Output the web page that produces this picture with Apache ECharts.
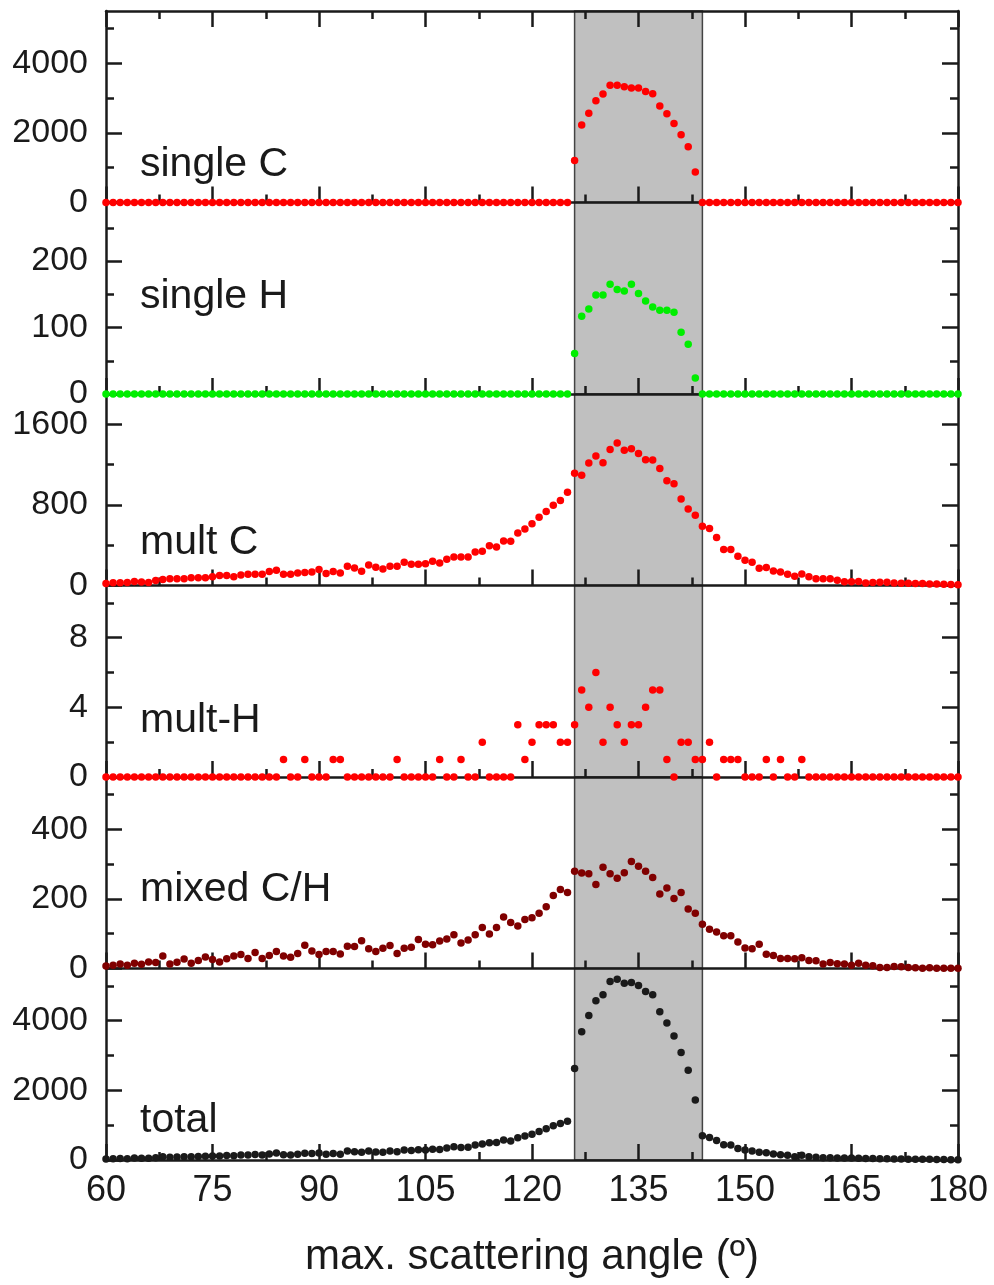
<!DOCTYPE html>
<html>
<head>
<meta charset="utf-8">
<script src="https://cdn.jsdelivr.net/npm/echarts@6.0.0/dist/echarts.min.js"></script>
<style>
html, body { margin: 0; padding: 0; background: #fff; }
#chart { width: 994px; height: 1285px; }
</style>
</head>
<body>
<div id="chart"></div>
<script>
// angles run 60..180 in 1 degree steps
var angleStart = 60;

var singleC = [
	0,0,0,0,0,0,0,0,0,0, 0,0,0,0,0,0,0,0,0,0, 0,0,0,0,0,0,0,0,0,0,
	0,0,0,0,0,0,0,0,0,0, 0,0,0,0,0,0,0,0,0,0, 0,0,0,0,0,0,0,0,0,0,
	0,0,0,0,0,0,1209,2229,2560,2923, 3114,3371,3371,3323,3286,3286,3189,3123,2771,2551,
	2266,1943,1600,874,0,0,0,0,0,0, 0,0,0,0,0,0,0,0,0,0, 0,0,0,0,0,0,0,0,0,0,
	0,0,0,0,0,0,0,0,0,0, 0
];
var singleH = [
	0,0,0,0,0,0,0,0,0,0, 0,0,0,0,0,0,0,0,0,0, 0,0,0,0,0,0,0,0,0,0,
	0,0,0,0,0,0,0,0,0,0, 0,0,0,0,0,0,0,0,0,0, 0,0,0,0,0,0,0,0,0,0,
	0,0,0,0,0,0,61,117,128,149, 149,165,157,155,165,151,140,131,126,126,
	123,93,75,24,0,0,0,0,0,0, 0,0,0,0,0,0,0,0,0,0, 0,0,0,0,0,0,0,0,0,0,
	0,0,0,0,0,0,0,0,0,0, 0
];
var multC = [
	20,27,27,30,40,35,30,49,59,66,
	66,66,76,76,76,86,99,99,86,105,
	112,112,112,138,151,112,112,125,128,135,
	158,118,138,125,191,174,141,204,181,164,
	191,191,230,210,210,217,240,224,260,283,
	283,283,333,339,395,382,441,438,520,560,
	612,678,734,797,843,925,1113,1093,1215,1284,
	1218,1350,1415,1343,1356,1310,1248,1245,1162,1040,
	1010,859,760,698,589,566,477,356,356,290,
	250,230,171,178,145,135,112,92,115,86,
	66,66,66,53,36,36,40,26,30,33,
	33,26,23,23,20,20,16,16,13,10,8
];
var multH = [
	0,0,0,0,0,0,0,0,0,0,
	0,0,0,0,0,0,0,0,0,0,
	0,0,0,0,0,1,0,0,1,0,
	0,0,1,1,0,0,0,0,0,0,
	0,1,0,0,0,0,0,1,0,0,
	1,0,0,2,0,0,0,0,3,1,
	2,3,3,3,2,2,3,5,4,6,
	2,4,3,2,3,3,4,5,5,1,
	0,2,2,1,1,2,0,1,1,1,
	0,0,0,1,0,1,0,0,1,0,
	0,0,0,0,0,0,0,0,0,0,
	0,0,0,0,0,0,0,0,0,0,0
];
var mixedCH = [
	7,9,13,9,15,12,19,17,36,13,
	18,27,15,23,33,26,19,28,36,40,
	29,46,29,37,49,36,32,43,67,50,
	40,49,49,42,64,63,80,57,49,58,
	66,43,58,61,83,70,68,79,85,97,
	73,82,97,118,99,118,148,132,122,141,
	146,159,177,210,227,218,279,274,272,241,
	291,272,259,275,307,294,279,261,214,231,
	201,218,171,159,127,113,105,94,94,76,
	59,57,70,41,37,29,29,28,31,23,
	22,13,17,14,13,9,15,9,8,3,
	3,6,5,3,2,1,2,1,1,1,1
];
var total = [
	27,36,40,39,55,47,49,66,95,79,
	84,93,91,99,109,112,118,127,122,145,
	141,158,141,175,200,149,144,168,196,185,
	198,167,188,168,255,237,221,261,230,222,
	257,235,288,271,293,287,308,304,345,380,
	357,365,430,459,494,500,571,543,638,686,
	743,819,895,981,1048,1114,2628,3686,4152,4571,
	4743,5124,5191,5076,5095,5010,4838,4743,4257,3933,
	3562,3086,2581,1724,695,648,562,438,429,333,
	286,257,219,210,171,152,133,95,133,95,
	76,67,66,60,57,55,48,45,40,38,
	35,30,28,25,22,20,18,15,12,10,8
];

var panelNames = ['single C', 'single H', 'mult C', 'mult-H', 'mixed C/H', 'total'];
var panelData = [singleC, singleH, multC, multH, mixedCH, total];
var panelColors = ['#ff0000', '#00ee00', '#ff0000', '#ff0000', '#800000', '#1a1a1a'];
var panelMax = [5500, 288, 1900, 11, 550, 5500];
var majorTicks = [[0, 2000, 4000], [0, 100, 200], [0, 800, 1600], [0, 4, 8], [0, 200, 400], [0, 2000, 4000]];
var minorTicks = [[1000, 3000, 5000], [50, 150, 250], [400, 1200], [2, 6, 10], [100, 300, 500], [1000, 3000, 5000]];
var shadeFrom = 126, shadeTo = 144;
var xTitle = 'max. scattering angle (º)';

// layout
var gridTop = 11, gridH = 191.5, gridLeft = 106, gridW = 852;
var labelY = [165, 297, 543, 721, 890, 1121];
var ink = '#1a1a1a';
var lineW = 2.5;

function xAxisDef(g, pos, withLabels, xl) {
	return {
		gridIndex: g, type: 'value', position: pos, min: 60, max: 180, interval: 15, z: 3,
		axisLine: {show: true, onZero: false, lineStyle: {color: ink, width: lineW}},
		axisTick: {show: true, inside: true, length: 16, lineStyle: {color: ink, width: lineW}},
		minorTick: {show: true, splitNumber: 2, length: 8, lineStyle: {color: ink, width: lineW}},
		splitLine: {show: false},
		axisLabel: {
			show: withLabels, margin: xl.margin, color: ink, fontFamily: xl.family, fontSize: xl.size,
			showMinLabel: true, showMaxLabel: true
		},
		name: withLabels ? xTitle : '',
		nameLocation: 'middle', nameGap: 76,
		nameTextStyle: {color: ink, fontFamily: 'Liberation Sans', fontSize: 42}
	};
}

function yAxisDef(g, pos, max, ticks, len, showLine, showLabels) {
	return {
		gridIndex: g, type: 'value', position: pos, min: 0, max: max, z: 3,
		axisLine: {show: showLine, onZero: false, lineStyle: {color: ink, width: lineW}},
		axisTick: {show: true, inside: true, length: len, customValues: ticks, lineStyle: {color: ink, width: lineW}},
		axisLabel: {
			show: showLabels, customValues: ticks, margin: 18, color: ink,
			fontFamily: 'Liberation Sans', fontSize: 34, showMinLabel: true,
			formatter: function(v) { return String(v); }
		},
		splitLine: {show: false}
	};
}

function buildOption(xl) {
	var grids = [], xAxes = [], yAxes = [], series = [], graphics = [];
	for (var i = 0; i < 6; i++) {
		var top = gridTop + i * gridH;
		var gA = grids.length;
		grids.push({left: gridLeft, top: top, width: gridW, height: gridH, outerBoundsMode: 'none'});

		// main grid: bottom x axis, long y ticks on both sides
		var xa = xAxes.length;
		xAxes.push(xAxisDef(gA, 'bottom', i === 5, xl));
		if (i === 0) xAxes.push(xAxisDef(gA, 'top', false, xl));
		var ya = yAxes.length;
		yAxes.push(yAxisDef(gA, 'left', panelMax[i], majorTicks[i], 16, true, true));
		yAxes.push(yAxisDef(gA, 'right', panelMax[i], majorTicks[i], 16, true, false));

		// twin grid, only carries the short minor y ticks
		var gB = grids.length;
		grids.push({left: gridLeft, top: top, width: gridW, height: gridH, outerBoundsMode: 'none'});
		xAxes.push({gridIndex: gB, type: 'value', min: 60, max: 180, show: false});
		yAxes.push(yAxisDef(gB, 'left', panelMax[i], minorTicks[i], 8, false, false));
		yAxes.push(yAxisDef(gB, 'right', panelMax[i], minorTicks[i], 8, false, false));

		// gray band
		series.push({
			type: 'scatter', xAxisIndex: xa, yAxisIndex: ya, data: [], z: 1, silent: true,
			markArea: {
				silent: true,
				itemStyle: {color: '#c0c0c0', borderColor: '#444', borderWidth: 1.5},
				data: [[{xAxis: shadeFrom}, {xAxis: shadeTo}]]
			}
		});

		series.push({
			type: 'scatter', xAxisIndex: xa, yAxisIndex: ya, symbolSize: 7.5, clip: false, z: 5, silent: true,
			itemStyle: {color: panelColors[i], opacity: 1},
			data: panelData[i].map(function(v, k) { return [angleStart + k, v]; })
		});

		graphics.push({
			type: 'text', x: 140, y: labelY[i], z: 10,
			style: {
				text: panelNames[i], fill: ink, fontSize: 41, fontFamily: 'Liberation Sans',
				verticalAlign: 'middle', align: 'left'
			}
		});
	}
	return {
		animation: false,
		backgroundColor: '#fff',
		grid: grids,
		xAxis: xAxes,
		yAxis: yAxes,
		series: series,
		graphic: graphics
	};
}

// the v6 label layout has tripped on some label sizes, so fall back if needed
var tries = [
	{family: 'Liberation Sans', size: 36, margin: 13},
	{family: 'Liberation Sans', size: 34, margin: 13},
	{family: 'Liberation Sans', size: 34, margin: 10},
	{family: 'Liberation Sans', size: 33, margin: 11}
];
var dom = document.getElementById('chart');
for (var t = 0; t < tries.length; t++) {
	var old = echarts.getInstanceByDom(dom);
	if (old) old.dispose();
	var myChart = echarts.init(dom);
	try {
		myChart.setOption(buildOption(tries[t]));
		break;
	} catch (e) {
		// try next label setting
	}
}
</script>
</body>
</html>
